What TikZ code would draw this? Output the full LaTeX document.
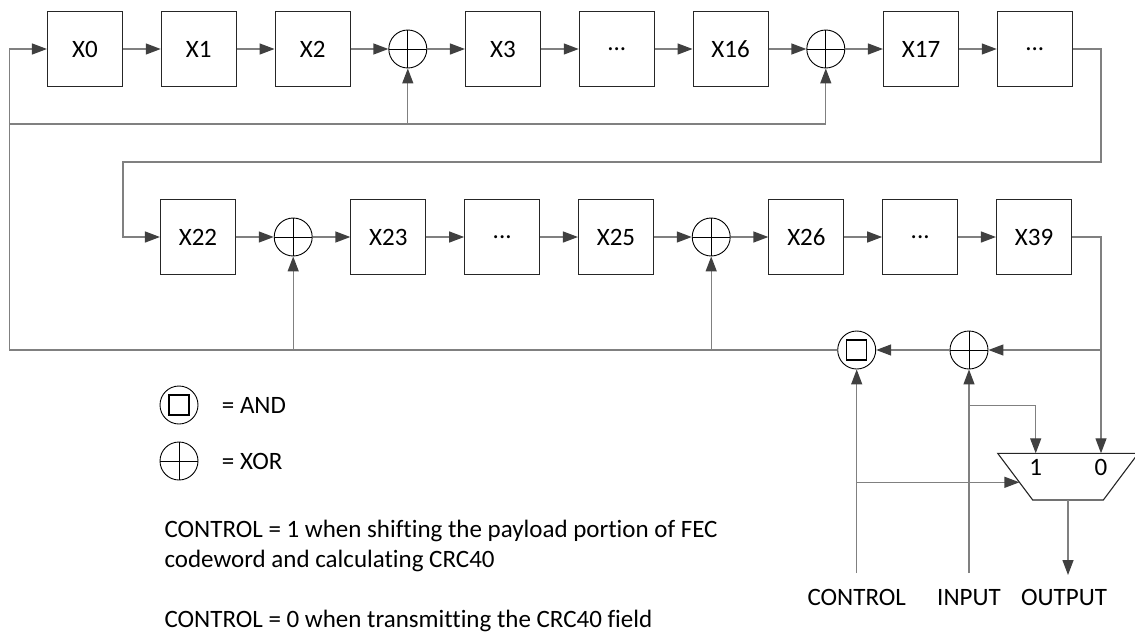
\documentclass[tikz,border=0pt]{standalone}
\usepackage{fontspec}
\setmainfont[Ligatures=NoCommon]{Carlito}
\usetikzlibrary{positioning,arrows.meta}

\definecolor{wiregray}{RGB}{128,128,128}
\definecolor{tipgray}{RGB}{64,64,64}

\tikzset{
  reg/.style={draw=black!85, line width=1.1pt, minimum size=75pt, inner sep=0pt},
  gate/.style={circle, draw=black, line width=0.9pt, minimum size=38pt, inner sep=0pt},
  xorgate/.style={gate, path picture={
    \draw[line width=0.9pt] (path picture bounding box.north) -- (path picture bounding box.south)
      (path picture bounding box.west) -- (path picture bounding box.east);}},
  andgate/.style={gate, path picture={
    \draw[line width=1.1pt] ([shift={(-10pt,-10pt)}]path picture bounding box.center) rectangle ++(20pt,20pt);}},
  wire/.style={draw=wiregray, line width=1.3pt},
  flow/.style={wire, -{Triangle[length=15pt,width=11pt,color=tipgray,fill=tipgray]}},
  txt/.style={inner sep=0pt},
}

\begin{document}
\begin{tikzpicture}[x=1pt,y=-1pt,node distance=37.7pt,font=\fontsize{25}{30}\selectfont]
\useasboundingbox (0,0) rectangle (1135,635);

% first row of the register
\node[reg] (x0) at (85,49) {X0};
\node[reg, right=of x0] (x1) {X1};
\node[reg, right=of x1] (x2) {X2};
\node[xorgate, right=of x2] (xa) {};
\node[reg, right=of xa] (x3) {X3};
\node[reg, right=of x3] (d1) {...};
\node[reg, right=of d1] (x16) {X16};
\node[xorgate, right=of x16] (xb) {};
\node[reg, right=of xb] (x17) {X17};
\node[reg, right=of x17] (d2) {...};

% second row of the register
\node[reg] (x22) at (198,237) {X22};
\node[xorgate, right=of x22] (xc) {};
\node[reg, right=of xc] (x23) {X23};
\node[reg, right=of x23] (d3) {...};
\node[reg, right=of d3] (x25) {X25};
\node[xorgate, right=of x25] (xd) {};
\node[reg, right=of xd] (x26) {X26};
\node[reg, right=of x26] (d4) {...};
\node[reg, right=of d4] (x39) {X39};

\foreach \a/\b in {x0/x1, x1/x2, x2/xa, xa/x3, x3/d1, d1/x16, x16/xb, xb/x17, x17/d2,
                   x22/xc, xc/x23, x23/d3, d3/x25, x25/xd, xd/x26, x26/d4, d4/x39}
  \draw[flow] (\a) -- (\b);

% wrap from row one to row two
\coordinate (rt) at (1101,162);
\coordinate (lt) at (123,162);
\draw[flow] (d2.east) -| (rt) -- (lt) |- (x22.west);

% feedback gates
\node[xorgate] (xe) at (969,350) {};
\node[andgate] (ga) at (856.7,350) {};

% multiplexer
\coordinate (m1) at (997.7,453.3);
\coordinate (m2) at (1138.3,453.3);
\coordinate (m3) at (1103.3,500);
\coordinate (m4) at (1032.7,500);
\draw[black!85, line width=1.1pt] (m1) -- (m2) -- (m3) -- (m4) -- cycle;
\node[txt] (l1) at (1035.7,467) {1};
\node[txt] (l0) at (1101,467) {0};

\coordinate (in0) at (1101,453.3);
\coordinate (in1) at (1035.7,453.3);
\coordinate (sel) at (1019.4,482.3);
\coordinate (mo) at (1068,500);

% feedback path
\coordinate (jn) at (1101,350);
\coordinate (fl) at (9.7,350);
\coordinate (tp) at (9.7,124);
\draw[flow] (x39.east) -| (in0);
\draw[flow] (jn) -- (xe);
\draw[flow] (xe) -- (ga);
\draw[flow] (ga.west) -- (fl) |- (x0.west);
\draw[flow] (tp) -| (xb.south);
\draw[flow] (xa.south |- tp) -- (xa.south);
\draw[flow] (xc.south |- fl) -- (xc.south);
\draw[flow] (xd.south |- fl) -- (xd.south);

% control, input and output
\coordinate (ctl) at (856.7,573);
\coordinate (inp) at (969,573);
\coordinate (br) at (969,405.7);
\coordinate (outp) at (1068,575);
\draw[flow] (ctl) -- (ga.south);
\draw[flow] (ctl |- sel) -- (sel);
\draw[flow] (inp) -- (xe.south);
\draw[flow] (br) -| (in1);
\draw[flow] (mo) -- (outp);
\node[txt, anchor=base] (lctl) at (856.7,605) {CONTROL};
\node[txt, anchor=base] (linp) at (969,605) {INPUT};
\node[txt, anchor=base] (lout) at (1064,605) {OUTPUT};

% legend
\node[andgate] (kand) at (179,405) {};
\node[xorgate] (kxor) at (179,461) {};
\node[txt, anchor=base west] (tand) at (221.7,413) {= AND};
\node[txt, anchor=base west] (txor) at (221.7,469) {= XOR};

% notes
\node[txt, anchor=base west] (n1) at (164.3,537) {CONTROL = 1 when shifting the payload portion of FEC};
\node[txt, anchor=base west] (n2) at (164.3,567) {codeword and calculating CRC40};
\node[txt, anchor=base west] (n3) at (164.3,627) {CONTROL = 0 when transmitting the CRC40 field};
\end{tikzpicture}
\end{document}
